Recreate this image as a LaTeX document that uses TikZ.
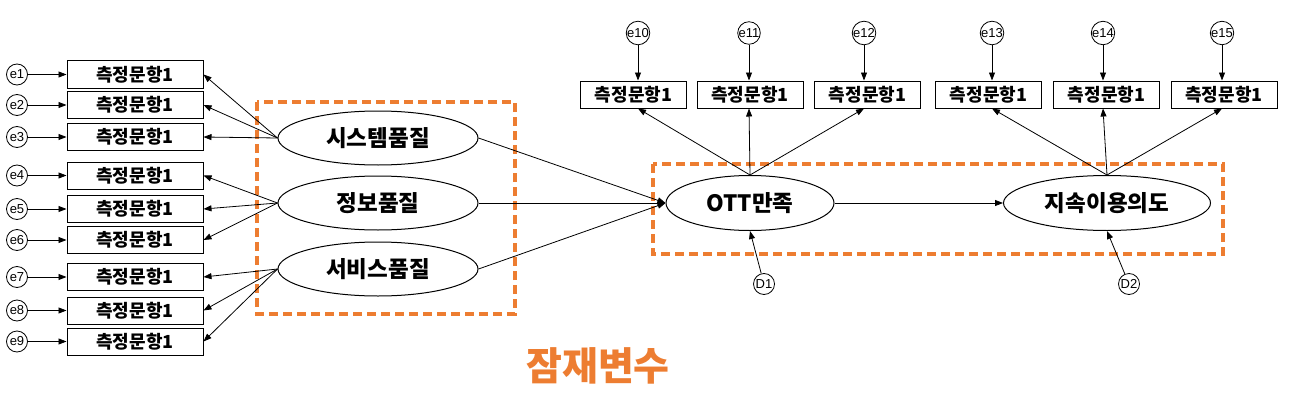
\documentclass[tikz,border=0pt]{standalone}
\usepackage{fontspec}
\newfontfamily\kr{Noto Sans CJK KR}
\newfontfamily\lat{Liberation Sans}
\usetikzlibrary{shapes.geometric,arrows.meta}
\definecolor{myorange}{RGB}{237,125,49}
\tikzset{
  itembox/.style={draw,line width=1pt,inner sep=0pt,minimum height=27pt,font=\kr\bfseries\fontsize{18}{18}\selectfont},
  lbox/.style={itembox,minimum width=136pt},
  tbox/.style={itembox,minimum width=106pt},
  errc/.style={draw,circle,line width=0.8pt,inner sep=0pt,minimum size=21pt,font=\lat\fontsize{13}{13}\selectfont},
  latent/.style={draw,ellipse,line width=1pt,inner sep=0pt,minimum height=54pt,font=\kr\bfseries\fontsize{22.5}{22.5}\selectfont},
  arr/.style={line width=0.8pt,-{Triangle[length=8pt,width=6pt]}},
  orbox/.style={draw=myorange,line width=3.2pt,dash pattern=on 9pt off 5pt}
}
\begin{document}
\begin{tikzpicture}[x=1pt,y=-1pt]
\useasboundingbox (0,0) rectangle (1297,404);
% orange dashed groups
\draw[orbox] (257,102) rectangle (515,314);
\draw[orbox] (653,164) rectangle (1223,254);
% left item boxes
\foreach \i/\y in {1/74.5,2/105,3/137,4/175.5,5/209,6/240,7/277,8/310.5,9/341.5}{
  \node[lbox] (b\i) at (135,\y) {측정문항1};
  \node[errc] (e\i) at (17,\y) {e\i};
  \draw[arr] (e\i) -- (b\i);
}
% left latents
\node[latent,minimum width=200pt] (sys) at (378,138) {시스템품질};
\node[latent,minimum width=200pt] (info) at (378,203) {정보품질};
\node[latent,minimum width=200pt] (serv) at (378,269) {서비스품질};
\foreach \i in {1,2,3}{\draw[arr] (sys.west) -- (b\i.east);}
\foreach \i in {4,5,6}{\draw[arr] (info.west) -- (b\i.east);}
\foreach \i in {7,8,9}{\draw[arr] (serv.west) -- (b\i.east);}
% right latents
\node[latent,minimum width=168pt,minimum height=55pt] (ott) at (750,203) {OTT만족};
\node[latent,minimum width=207pt,minimum height=55pt] (cont) at (1107,203) {지속이용의도};
\draw[arr] (sys.east) -- (ott.west);
\draw[arr] (info.east) -- (ott.west);
\draw[arr] (serv.east) -- (ott.west);
\draw[arr] (ott.east) -- (cont.west);
% top item boxes
\foreach \i/\bx/\ex in {10/633.5/638,11/750/749,12/867.5/864,13/988.5/992,14/1106.5/1103,15/1224/1222}{
  \node[tbox] (b\i) at (\bx,94.5) {측정문항1};
  \node[errc] (e\i) at (\ex,33) {e\i};
  \draw[arr] (e\i) -- (e\i |- b\i.north);
}
\foreach \i in {10,11,12}{\draw[arr] (ott.north) -- (e\i |- b\i.south);}
\foreach \i in {13,14,15}{\draw[arr] (cont.north) -- (e\i |- b\i.south);}
% disturbances
\node[errc] (d1) at (764,284) {D1};
\node[errc] (d2) at (1129,284) {D2};
\draw[arr] (d1) -- (ott.south);
\draw[arr] (d2) -- (cont.south);
% caption
\node[font=\kr\bfseries\fontsize{39}{39}\selectfont,text=myorange] (cap) at (598,366) {잠재변수};
\end{tikzpicture}
\end{document}
